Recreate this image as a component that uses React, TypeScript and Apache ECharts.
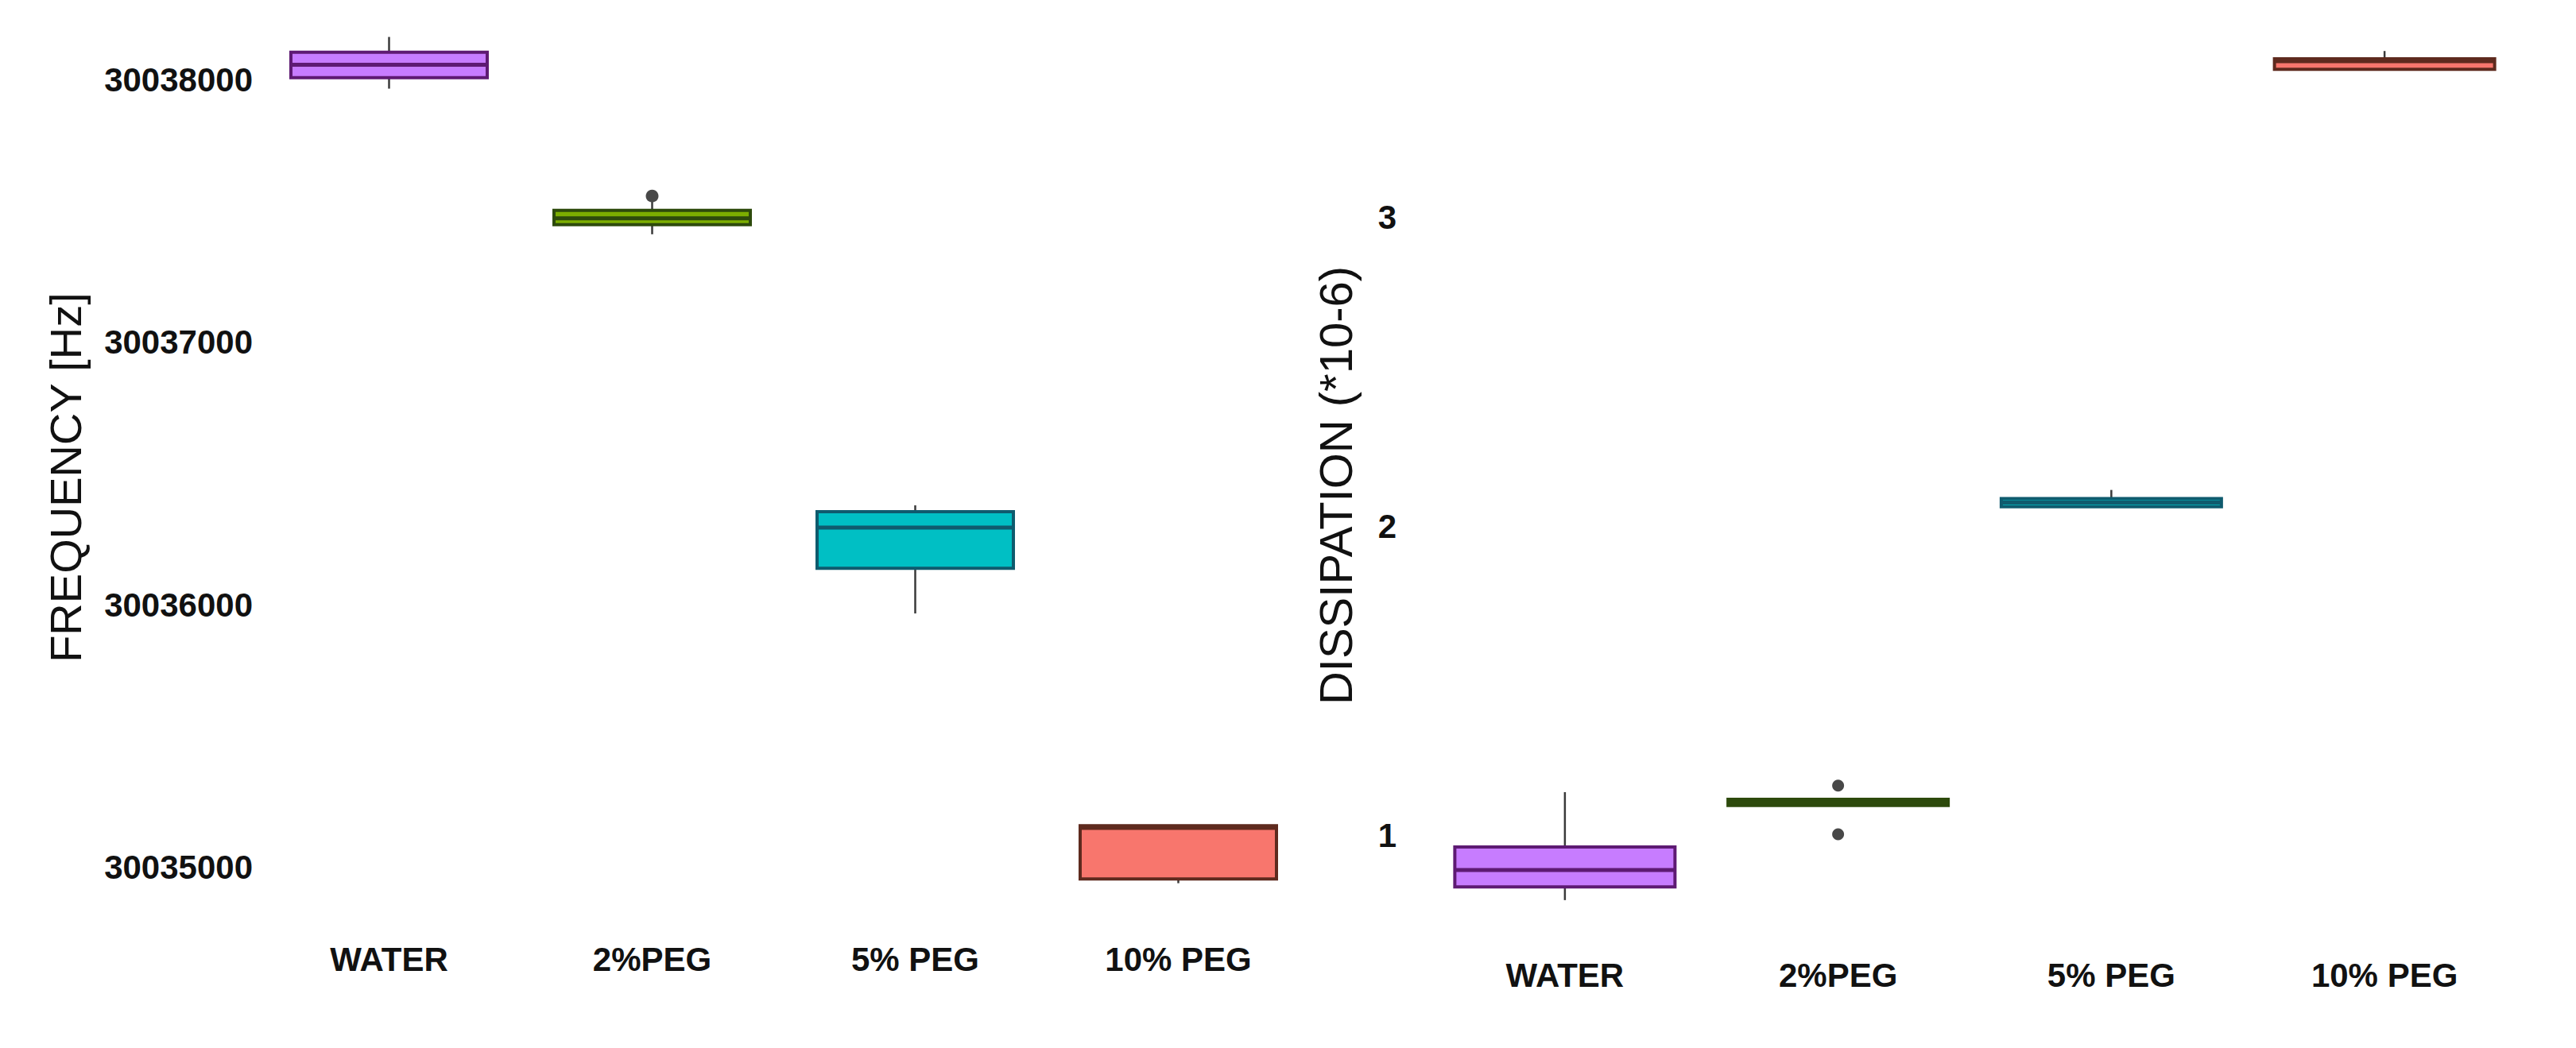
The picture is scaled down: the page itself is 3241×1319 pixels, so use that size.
import React from 'react';
import * as echarts from 'echarts';

// categories shared by both panels
const categories = ['WATER', '2%PEG', '5% PEG', '10% PEG'];

// frequency [Hz]: min, Q1, median, Q3, max
const frequencyBoxes = [
  [30037967, 30038009, 30038058, 30038106, 30038164],
  [30037412, 30037449, 30037473, 30037503, 30037535],
  [30035967, 30036139, 30036294, 30036355, 30036379],
  [30034939, 30034955, 30035150, 30035158, 30035158],
];
const frequencyOutliers = [[1, 30037558]];
const frequencyTicks = [30035000, 30036000, 30037000, 30038000];

// dissipation (*10-6): min, Q1, median, Q3, max
const dissipationBoxes = [
  [0.792, 0.835, 0.889, 0.964, 1.141],
  [1.098, 1.098, 1.108, 1.118, 1.118],
  [2.064, 2.064, 2.077, 2.09, 2.118],
  [3.478, 3.478, 3.504, 3.512, 3.537],
];
const dissipationOutliers = [[1, 1.162], [1, 1.005]];
const dissipationTicks = [1, 2, 3];

const fills = ['#C77CFF', '#7CAE00', '#00BFC4', '#F8766D'];
const borders = ['#5e1a73', '#2d4a0c', '#0f5b6e', '#5e2a1e'];

const FONT = 'Liberation Sans';

const tickFormatter = (ticks: number[]) => (v: number) =>
  ticks.some((t) => Math.abs(t - v) < 1e-6) ? String(v) : '';

// ggplot-like box: no whisker caps, thick median
const boxRenderer = (boxPx: number) => (params: any, api: any) => {
  const i = api.value(0);
  const [minV, q1, med, q3, maxV] = [1, 2, 3, 4, 5].map((k) => api.value(k));
  const pMin = api.coord([i, minV]);
  const pQ1 = api.coord([i, q1]);
  const pMed = api.coord([i, med]);
  const pQ3 = api.coord([i, q3]);
  const pMax = api.coord([i, maxV]);
  const cx = pMed[0];
  const half = boxPx / 2;
  const fill = fills[params.dataIndex];
  const edge = borders[params.dataIndex];
  return {
    type: 'group',
    children: [
      {
        type: 'line',
        shape: { x1: cx, y1: pMax[1], x2: cx, y2: pQ3[1] },
        style: { stroke: '#3a3a3a', lineWidth: 2.5 },
      },
      {
        type: 'line',
        shape: { x1: cx, y1: pQ1[1], x2: cx, y2: pMin[1] },
        style: { stroke: '#3a3a3a', lineWidth: 2.5 },
      },
      {
        type: 'rect',
        shape: { x: cx - half, y: pQ3[1], width: boxPx, height: Math.max(pQ1[1] - pQ3[1], 1) },
        style: { fill, stroke: edge, lineWidth: 4 },
      },
      {
        type: 'line',
        shape: { x1: cx - half, y1: pMed[1], x2: cx + half, y2: pMed[1] },
        style: { stroke: edge, lineWidth: 5 },
      },
    ],
  };
};

const boxData = (boxes: number[][]) => boxes.map((b, i) => [i, ...b]);

export default function App() {
  const chartRef = React.useRef<HTMLDivElement>(null);

  React.useEffect(() => {
    if (!chartRef.current) return;
    const chart = echarts.init(chartRef.current, undefined, { renderer: 'svg' });

    const xAxisBase = {
      type: 'category' as const,
      data: categories,
      axisLine: { show: false },
      axisTick: { show: false },
      splitLine: { show: false },
      axisLabel: { margin: 12, fontFamily: FONT, fontWeight: 'bold' as const, fontSize: 42, color: '#111' },
    };

    const yLabel = { fontFamily: FONT, fontWeight: 'bold' as const, fontSize: 42, color: '#111' };

    chart.setOption({
      animation: false,
      backgroundColor: '#ffffff',
      grid: [
        { left: 324, width: 1324, top: 28, height: 1146 },
        { left: 1797, width: 1375, top: 28, height: 1166 },
      ],
      xAxis: [
        { ...xAxisBase, gridIndex: 0 },
        { ...xAxisBase, gridIndex: 1 },
      ],
      yAxis: [
        {
          type: 'value',
          gridIndex: 0,
          min: 30034750,
          max: 30038220,
          splitNumber: 3,
          axisLine: { show: false },
          axisTick: { show: false },
          splitLine: { show: false },
          axisLabel: { ...yLabel, margin: 6, formatter: tickFormatter(frequencyTicks) },
          name: 'FREQUENCY [Hz]',
          nameLocation: 'middle',
          nameRotate: 90,
          nameGap: 214,
          nameTextStyle: { fontFamily: FONT, fontSize: 56, color: '#111' },
        },
        {
          type: 'value',
          gridIndex: 1,
          min: 0.635,
          max: 3.63,
          splitNumber: 3,
          axisLine: { show: false },
          axisTick: { show: false },
          splitLine: { show: false },
          axisLabel: { ...yLabel, margin: 40, formatter: tickFormatter(dissipationTicks) },
          name: 'DISSIPATION (*10-6)',
          nameLocation: 'middle',
          nameRotate: 90,
          nameGap: 88,
          nameTextStyle: { fontFamily: FONT, fontSize: 58, color: '#111' },
        },
      ],
      series: [
        {
          type: 'custom',
          xAxisIndex: 0,
          yAxisIndex: 0,
          renderItem: boxRenderer(247),
          encode: { x: 0, y: [1, 2, 3, 4, 5] },
          data: boxData(frequencyBoxes),
        },
        {
          type: 'scatter',
          xAxisIndex: 0,
          yAxisIndex: 0,
          symbolSize: 16,
          itemStyle: { color: '#1a1a1a' },
          data: frequencyOutliers,
        },
        {
          type: 'custom',
          xAxisIndex: 1,
          yAxisIndex: 1,
          renderItem: boxRenderer(277),
          encode: { x: 0, y: [1, 2, 3, 4, 5] },
          data: boxData(dissipationBoxes),
        },
        {
          type: 'scatter',
          xAxisIndex: 1,
          yAxisIndex: 1,
          symbolSize: 15,
          itemStyle: { color: '#1a1a1a' },
          data: dissipationOutliers,
        },
      ],
    });

    return () => {
      chart.dispose();
    };
  }, []);

  return (
    <div
      ref={chartRef}
      style={{ position: 'absolute', left: 0, top: 0, width: '3241px', height: '1319px' }}
    />
  );
}
